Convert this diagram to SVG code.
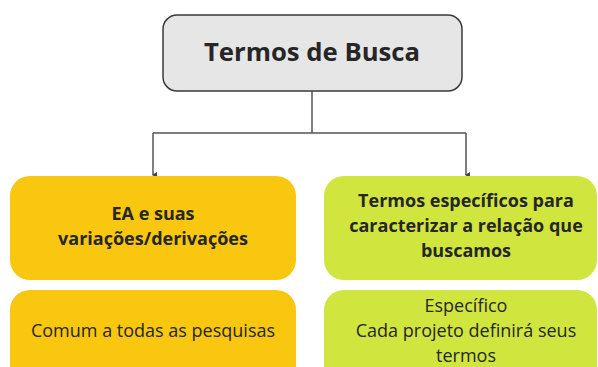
<svg xmlns="http://www.w3.org/2000/svg" width="598" height="367" viewBox="0 0 598 367">
<defs>
<style>
.t{font-family:"Open Sans","Noto Sans",sans-serif;fill:#262626;text-anchor:middle;font-size:18px}
.b{font-weight:bold}
.yel{fill:#F9C70F}
.grn{fill:#D0E63E}
.edge{fill:none;stroke:#555;stroke-width:1.5}
</style>
<marker id="ah" viewBox="0 0 6 6" refX="3" refY="5" markerWidth="6" markerHeight="6" markerUnits="userSpaceOnUse" orient="auto-start-reverse">
<path d="M0,1 L6,1 L3,6 Z" fill="#444"/>
</marker>
</defs>
<rect width="598" height="367" fill="#ffffff"/>
<g id="connectors">
<path class="edge" d="M312,91 V133"/>
<path class="edge" d="M153,133 H466"/>
<path class="edge" d="M153,133 V175" marker-end="url(#ah)"/>
<path class="edge" d="M466,133 V175" marker-end="url(#ah)"/>
</g>
<g id="root">
<rect x="163" y="15" width="299" height="76" rx="14" fill="#E6E6E6" stroke="#3a3a3a" stroke-width="1.5"/>
<text class="t b" x="312" y="61" style="font-size:25.7px">Termos de Busca</text>
</g>
<g id="ea">
<rect class="yel" x="10" y="176" width="286" height="104" rx="20"/>
<text class="t b" x="153" y="220">EA e suas</text>
<text class="t b" x="153" y="245">variações/derivações</text>
</g>
<g id="comum">
<rect class="yel" x="10" y="290" width="286" height="100" rx="20"/>
<text class="t" x="153" y="337">Comum a todas as pesquisas</text>
</g>
<g id="especificos">
<rect class="grn" x="324" y="176" width="273" height="104" rx="20"/>
<text class="t b" x="466" y="207">Termos específicos para</text>
<text class="t b" x="466" y="232">caracterizar a relação que</text>
<text class="t b" x="466" y="257">buscamos</text>
</g>
<g id="especifico">
<rect class="grn" x="324" y="290" width="273" height="100" rx="20"/>
<text class="t" x="466" y="312">Específico</text>
<text class="t" x="466" y="337">Cada projeto definirá seus</text>
<text class="t" x="466" y="362">termos</text>
</g>
</svg>
